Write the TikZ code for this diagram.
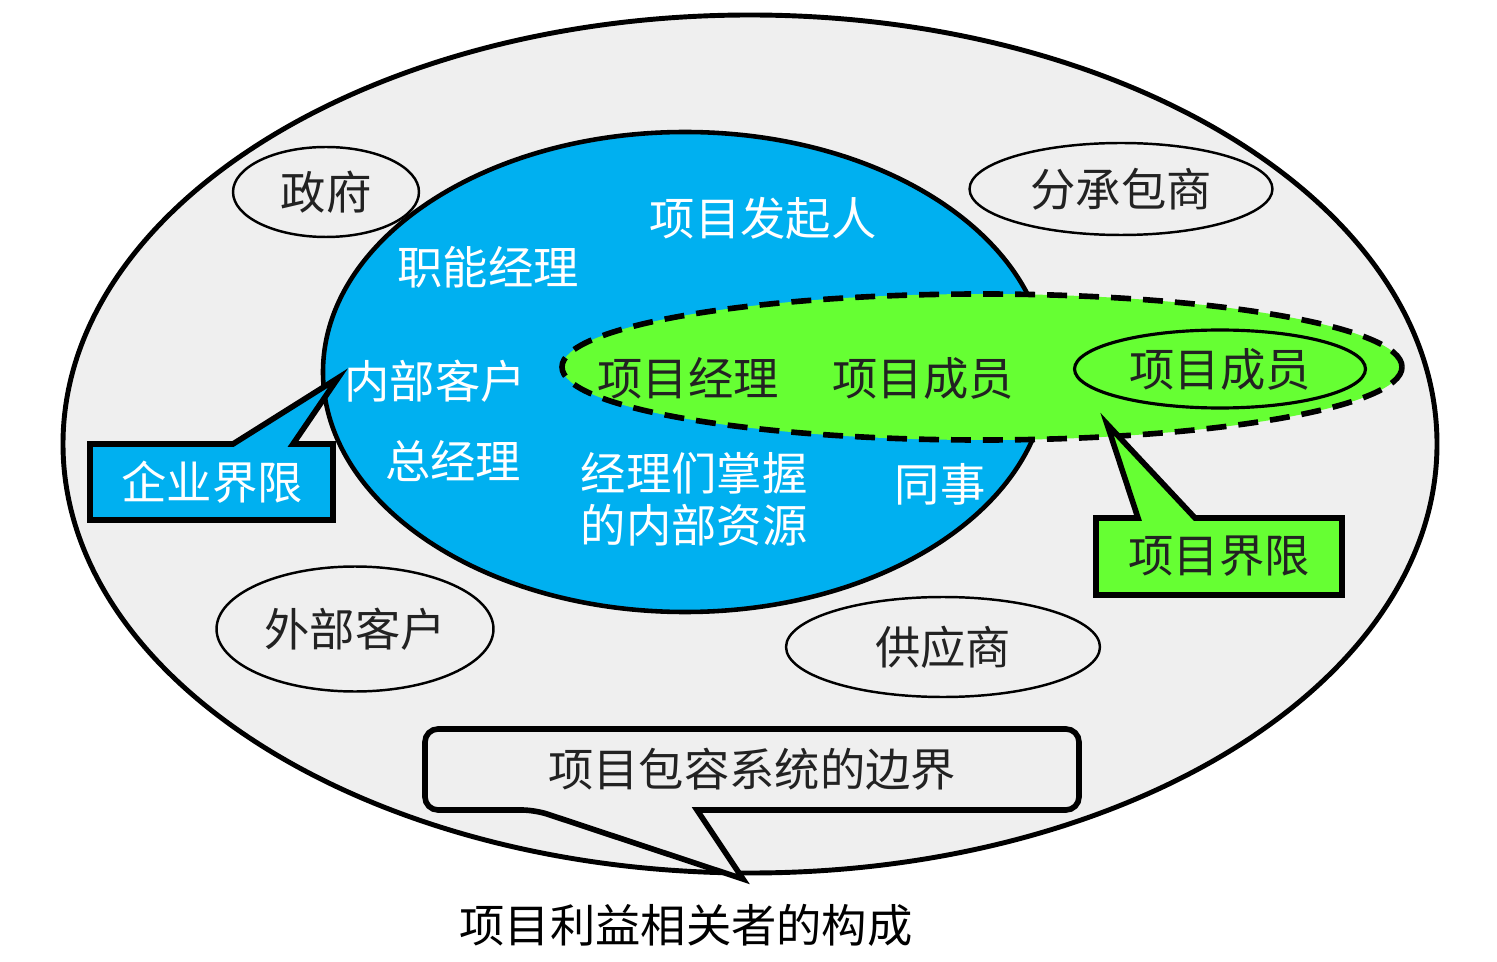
\documentclass[tikz,border=0pt]{standalone}
\usepackage{fontspec}
\newfontfamily\cjk{Noto Sans CJK SC}
\usetikzlibrary{shapes.geometric, positioning}
\definecolor{fondoGris}{HTML}{EFEFEF}
\definecolor{azulEmp}{HTML}{00B0F0}
\definecolor{verdeProy}{HTML}{66FF33}
\definecolor{textoOsc}{HTML}{222222}

\begin{document}
\begin{tikzpicture}[x=0.02cm, y=-0.02cm,
    zi/.style      = {font=\cjk\fontsize{25.8}{29.5}\selectfont, inner sep=0pt, align=center},
    ziW/.style     = {zi, text=white},
    ziD/.style     = {zi, text=textoOsc},
    externo/.style = {ellipse, draw=black, line width=1.4pt, fill=fondoGris, inner sep=0pt,
                      font=\cjk\fontsize{25.8}{29.5}\selectfont, text=textoOsc},
    limite/.style  = {draw=black, line width=2.8pt},
    caja/.style    = {draw=black, line width=3.2pt, line join=miter},
]
\useasboundingbox (0,0) rectangle (1497,962);

% --- Sistema que contiene el proyecto ---
\draw[limite, fill=fondoGris] (750,444) ellipse [x radius=687, y radius=429];

% --- Partes externas ---
\node[externo, minimum width=3.72cm, minimum height=1.8cm] (gob) at (326,192) {政府};
\node[externo, minimum width=6.06cm, minimum height=1.84cm] (subc) at (1121,189) {分承包商};
\node[externo, minimum width=5.54cm, minimum height=2.5cm] (cliext) at (355,629) {外部客户};
\node[externo, minimum width=6.28cm, minimum height=2.0cm] (prov) at (943,647) {供应商};

% --- Empresa ---
\draw[limite, line width=2.6pt, fill=azulEmp] (685,372) ellipse [x radius=362, y radius=240];
\node[ziW] (patroc) at (763,218) {项目发起人};
\node[ziW] (jefefun) at (488,267) {职能经理};
\node[ziW] (cliint) at (435,381) {内部客户};
\node[ziW] (gerente) at (453,461) {总经理};
\node[ziW] (recursos) at (694,499) {经理们掌握\\的内部资源};
\node[ziW] (colega) at (940,484) {同事};

% --- Proyecto ---
\draw[draw=black, line width=3.2pt, dash pattern=on 0.4cm off 0.24cm, fill=verdeProy]
    (982,367) ellipse [x radius=420, y radius=73];
\node[ziD] (jefeproy) at (688,378) {项目经理};
\node[ziD] (miembro) at (923,378) {项目成员};
\node[externo, fill=verdeProy, line width=1.8pt, minimum width=5.82cm, minimum height=1.56cm]
    (miembro2) at (1220,369) {项目成员};

% --- Llamadas ---
\coordinate (puntaEmp) at (338,378);
\draw[caja, fill=azulEmp] (90,444) -- (233,444) -- (puntaEmp) -- (293,444) -- (333,444)
    -- (333,520) -- (90,520) -- cycle;
\node[ziW] (limEmp) at (212,482) {企业界限};

\coordinate (puntaProy) at (1107,424);
\draw[caja, fill=verdeProy] (1096,518) -- (1138,518) -- (puntaProy) -- (1195,518) -- (1342,518)
    -- (1342,595) -- (1096,595) -- cycle;
\node[ziD] (limProy) at (1219,556) {项目界限};

\coordinate (puntaSis) at (743,879);
\draw[caja, fill=fondoGris, rounded corners=0.26cm] (800,810) -- (1079,810) -- (1079,729)
    -- (425,729) -- (425,810) -- (535,810) [sharp corners] -- (puntaSis) -- (697,810) -- cycle;
\node[ziD] (limSis) at (752,769) {项目包容系统的边界};

% --- Título ---
\node[zi, text=black] (titulo) at (686,925) {项目利益相关者的构成};

\end{tikzpicture}
\end{document}
